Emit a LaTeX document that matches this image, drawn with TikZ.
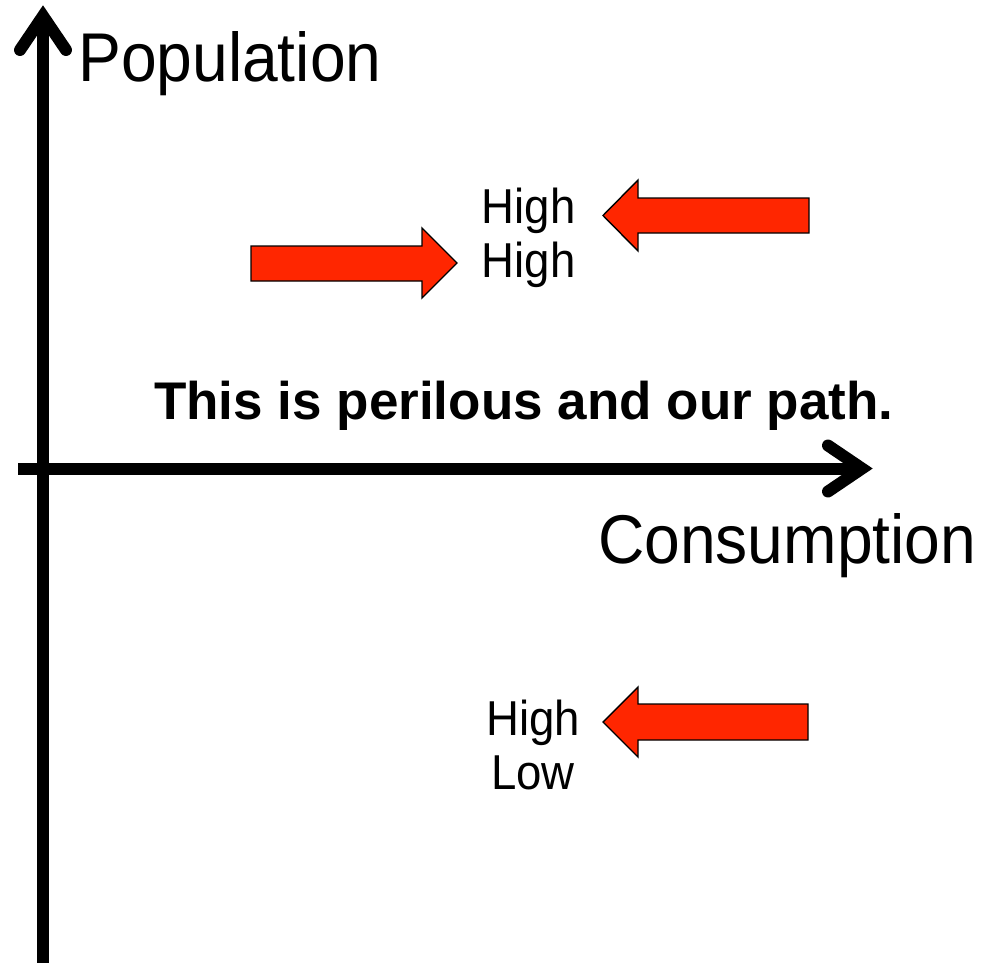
\documentclass[tikz,border=0pt]{standalone}
\usepackage{fontspec}
\usepackage{graphicx}
\setmainfont{Liberation Sans}
\definecolor{arrowred}{RGB}{255,38,0}
\newcommand{\narrow}[1]{\scalebox{0.93}[1]{#1}}
\begin{document}
\begin{tikzpicture}[x=1pt,y=-1pt,
  axisline/.style={line width=12pt, black, line cap=butt},
  axishead/.style={line width=12pt, black, line cap=round, line join=miter},
  blockarrow/.style={fill=arrowred, draw=black, line width=1.4pt, line join=miter},
  lab/.style={inner sep=0pt, font=\fontsize{69}{80}\selectfont},
  val/.style={inner sep=0pt, font=\fontsize{49}{54}\selectfont},
  msg/.style={inner sep=0pt, font=\bfseries\fontsize{53}{60}\selectfont}]
\useasboundingbox (0,0) rectangle (982,963);

% axes
\coordinate (ybottom) at (43,970);
\coordinate (ytip) at (43,16);
\coordinate (xleft) at (18,468.5);
\coordinate (xtip) at (862,468.5);
\draw[axisline] (ybottom) -- (ytip);
\draw[axishead] (20,50) -- (ytip) -- (66,50);
\draw[axisline] (xleft) -- (xtip);
\draw[axishead] (828,445.5) -- (xtip) -- (828,491.5);

% axis labels
\node[lab, anchor=base west] (pop) at (78,82) {\narrow{Population}};
\node[lab, anchor=base west] (cons) at (598,563) {\narrow{Consumption}};

% message
\node[msg, anchor=base west] (msg) at (154,419) {This is perilous and our path.};

% values
\node[val, anchor=base] (hh1) at (528.5,223) {\narrow{High}};
\node[val, anchor=base] (hh2) at (528.5,277) {\narrow{High}};
\node[val, anchor=base] (hl1) at (533,735) {\narrow{High}};
\node[val, anchor=base] (hl2) at (533,789) {\narrow{Low}};

% red block arrows
\draw[blockarrow] (603,215.5) -- (638,180) -- (638,198) -- (809,198) -- (809,233) -- (638,233) -- (638,251) -- cycle;
\draw[blockarrow] (457,263) -- (422,228) -- (422,246) -- (251,246) -- (251,281) -- (422,281) -- (422,298) -- cycle;
\draw[blockarrow] (603,722) -- (638,687) -- (638,704) -- (808,704) -- (808,740) -- (638,740) -- (638,757) -- cycle;
\end{tikzpicture}
\end{document}
